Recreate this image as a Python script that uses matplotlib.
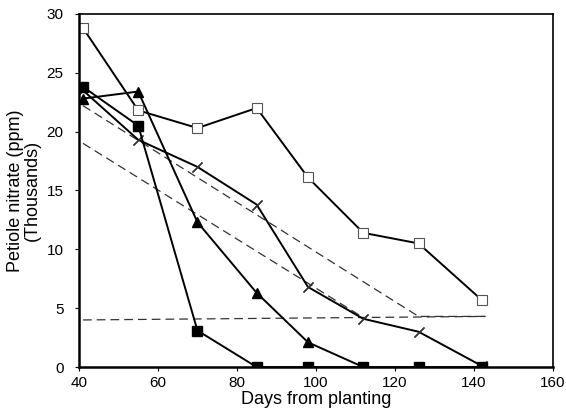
import matplotlib
matplotlib.use("Agg")
import matplotlib.pyplot as plt

plt.rcParams['font.family'] = ['Liberation Sans', 'DejaVu Sans']

# sampling days
days = [41, 55, 70, 85, 98, 112, 126, 142]

open_sq = [28.8, 21.8, 20.3, 22.0, 16.1, 11.4, 10.5, 5.7]
filled_sq = [23.8, 20.5, 3.1, 0.0, 0.0, 0.0, 0.0, 0.0]
tri_days = [41, 55, 70, 85, 98, 112]
tri = [22.8, 23.4, 12.3, 6.3, 2.1, 0.0]
cross = [23.5, 19.3, 17.0, 13.8, 6.8, 4.1, 3.0, 0.1]

# dashed reference lines
ref_a_days = [41, 126, 143]
ref_a = [22.2, 4.3, 4.3]
ref_b_days = [41, 112]
ref_b = [19.0, 4.2]
ref_c_days = [41, 143]
ref_c = [4.0, 4.3]

fig = plt.figure(figsize=(5.66, 4.19), dpi=100)
ax = fig.add_axes([0.1396, 0.124, 0.837, 0.843])

dash = dict(color='#333333', lw=0.9, dashes=(7, 4))
ax.plot(ref_a_days, ref_a, **dash)
ax.plot(ref_b_days, ref_b, **dash)
ax.plot(ref_c_days, ref_c, **dash)

ax.plot(days, cross, color='black', lw=1.4, marker=(2, 2, -45), ms=10,
        mew=0.9, mec='#333333')
ax.plot(tri_days, tri, color='black', lw=1.4, marker='^', ms=6.5)
ax.plot(days, filled_sq, color='black', lw=1.4, marker='s', ms=7)
ax.plot(days, open_sq, color='black', lw=1.4, marker='s', ms=7,
        mfc='white', mec='#555555', mew=0.8)

ax.set_xlim(40, 160)
ax.set_ylim(0, 30)
ax.set_xticks(range(40, 161, 20))
ax.set_yticks(range(0, 31, 5))
ax.tick_params(labelsize=11, length=3, width=0.8, direction='out')
ax.tick_params(axis='y', pad=8)
for s in ax.spines.values():
    s.set_linewidth(1.2)
ax.spines['left'].set_linewidth(1.8)
ax.spines['bottom'].set_linewidth(1.8)

ax.set_xlabel('Days from planting', fontsize=13, labelpad=1)
ax.set_ylabel('Petiole nitrate (ppm)\n(Thousands)', fontsize=13, labelpad=4,
              linespacing=1.0)

fig.savefig('out.png', dpi=100)
